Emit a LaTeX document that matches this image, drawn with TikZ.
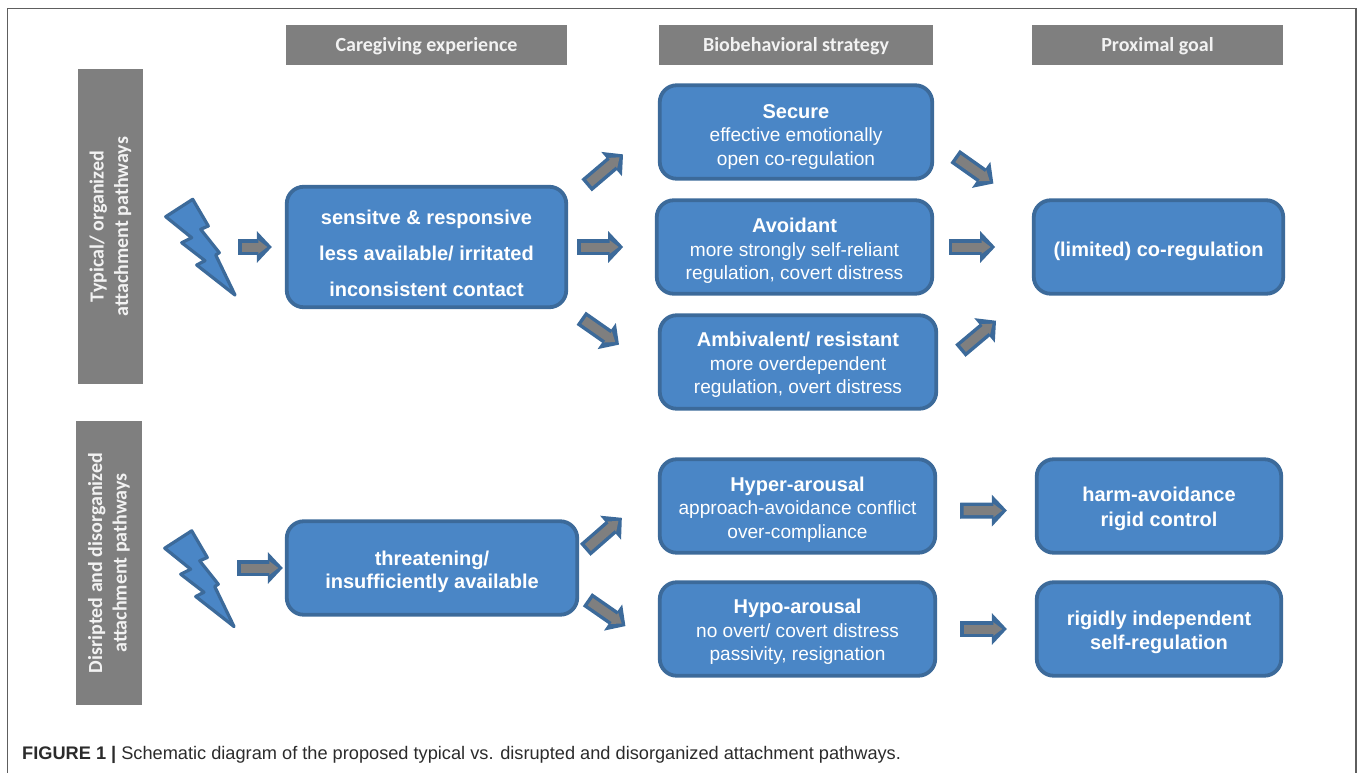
\documentclass[tikz,border=0pt]{standalone}
\usepackage{fontspec}
\setmainfont{Liberation Sans}
\newfontfamily\barfont{Carlito}
\usetikzlibrary{positioning, arrows.meta}
\definecolor{boxblue}{HTML}{4A86C6}
\definecolor{boxedge}{HTML}{3C6A9A}
\definecolor{bargray}{HTML}{7F7F7F}
\definecolor{framegray}{HTML}{5E5E5E}
\definecolor{captiontext}{HTML}{2B2B2B}
\newcommand{\boxtitle}[1]{{\fontsize{20}{23.6}\selectfont\bfseries #1}}
% first line of a box, the strut sets how far the text sits down
\newcommand{\boxhead}[2][23.5pt]{\rule{0pt}{#1}\boxtitle{#2}}
\tikzstyle{block} = [rectangle, draw=boxedge, fill=boxblue, line width=3.8pt,
    rounded corners=17pt, text=white, align=center,
    font=\fontsize{19.1}{23.6}\selectfont]
\tikzstyle{bar} = [rectangle, fill=bargray, text=white!95!black, align=center, inner sep=0pt,
    font=\barfont\bfseries\fontsize{20}{24.5}\selectfont]
\tikzstyle{boltline} = [draw=boxedge, fill=boxblue, line width=3.2pt, line join=round]
\tikzstyle{frameline} = [draw=framegray, line width=1.4pt]
\tikzset{
% block arrow: the two values trim it at its start and at its end
blockarrow/.style 2 args={draw=boxedge, line width=16pt, shorten <=#1pt, shorten >=#2pt,
    -{Triangle[length=15pt,width=31pt]},
    postaction={draw=bargray, line width=9pt, shorten <=#1pt+3.5pt, shorten >=#2pt+4.5pt,
    -{Triangle[length=9pt,width=13pt]}}},
bolt/.pic={
    \draw [boltline] (-7.3,-47.7) -- (-34.3,-30.3) -- (-8.3,-9.3) -- (-18.3,-4.3) -- (5,13.7)
        -- (-3.3,18) -- (35,48) -- (15.7,8) -- (19.3,5.7) -- (0.7,-17.7) -- (8.3,-21) -- cycle;
}
}
\begin{document}
\begin{tikzpicture}[x=1pt, y=-1pt]
\useasboundingbox (0,0) rectangle (1358,773);
\draw [frameline] (7.5,773) -- (7.5,8.5) -- (1356,8.5) -- (1356,773);

\node [bar, minimum width=281pt, minimum height=40pt, text depth=2pt] (headcare) at (426.5,45) {Caregiving experience};
\node [bar, minimum width=274pt, minimum height=40pt, text depth=2pt, right of=headcare, node distance=369.5pt] (headstrategy) {Biobehavioral strategy};
\node [bar, minimum width=251pt, minimum height=40pt, text depth=2pt, right of=headstrategy, node distance=361.5pt] (headgoal) {Proximal goal};
\node [bar, rotate=90, minimum width=315pt, minimum height=65pt] (sidetypical) at (110.5,226.5) {Typical/ organized\\attachment pathways};
\node [bar, rotate=90, minimum width=284pt, minimum height=66pt] (sidedisrupted) at (109,563) {Disripted and disorganized\\attachment pathways};

\pic (boltA) at (200,247) {bolt};
\pic (boltB) at (199,578.5) {bolt};
\coordinate (startA) at (238,247);
\coordinate (startB) at (237,568);

\node [block, minimum width=279.5pt, minimum height=120.5pt] (careA) at (426.5,247) {\boxhead[26.5pt]{sensitve \& responsive}\\[12.4pt]\boxtitle{less available/ irritated}\\[12.4pt]\boxtitle{inconsistent contact}};
\node [block, minimum width=275.5pt, minimum height=93.5pt, right of=careA, node distance=368pt] (avoidant) {\boxhead[22.5pt]{Avoidant}\\more strongly self-reliant\\regulation, covert distress};
\node [block, minimum width=272.5pt, minimum height=93.5pt, above of=avoidant, node distance=115pt, xshift=1.5pt] (secure) {\boxhead{Secure}\\effective emotionally\\open co-regulation};
\node [block, minimum width=276.5pt, minimum height=93.5pt, below of=avoidant, node distance=115pt, xshift=3.5pt] (ambivalent) {\boxhead[20.5pt]{Ambivalent/ resistant}\\more overdependent\\regulation, overt distress};
\node [block, minimum width=249.5pt, minimum height=93.5pt, right of=avoidant, node distance=364pt] (limited) {\boxhead{(limited) co-regulation}};

\node [block, minimum width=290.5pt, minimum height=93.5pt] (careB) at (432,568) {\boxhead[22.5pt]{threatening/}\\\boxtitle{insufficiently available}};
\node [block, minimum width=275.5pt, minimum height=93.5pt] (hyper) at (797.5,506) {\boxhead[21.5pt]{Hyper-arousal}\\approach-avoidance conflict\\over-compliance};
\node [block, minimum width=275.5pt, minimum height=93.5pt, below of=hyper, node distance=123pt] (hypo) {\boxhead[20.5pt]{Hypo-arousal}\\no overt/ covert distress\\passivity, resignation};
\node [block, minimum width=244.5pt, minimum height=93.5pt, right of=hyper, node distance=361.5pt] (harm) {\boxhead[20.5pt]{harm-avoidance}\\[1pt]\boxtitle{rigid control}};
\node [block, minimum width=244.5pt, minimum height=93.5pt, right of=hypo, node distance=361.5pt] (rigid) {\boxhead[21.5pt]{rigidly independent}\\\boxtitle{self-regulation}};

\node [anchor=base west, inner sep=0pt, text=captiontext, font=\fontsize{18.2}{20}\selectfont] (caption) at (22,759.5) {\textbf{FIGURE 1 |} Schematic diagram of the proposed typical vs. disrupted and disorganized attachment pathways.};

  \draw [blockarrow={0}{13}] (startA) -- (careA);
  \draw [blockarrow={24.2}{45.7}] (careA.18.1) -- (secure.177.6);
  \draw [blockarrow={9.3}{31.7}] (careA) -- (avoidant);
  \draw [blockarrow={15.9}{47.4}] (careA.south east) -- (ambivalent.184.4);
  \draw [blockarrow={25.6}{47.1}] (secure.-4.4) -- (limited.164.2);
  \draw [blockarrow={14.7}{36.7}] (avoidant) -- (limited);
  \draw [blockarrow={29}{46.8}] (ambivalent.-3.2) -- (limited.199.5);

  \draw [blockarrow={0}{2}] (startB) -- (careB);
  \draw [blockarrow={8.1}{47.8}] (careB.5.6) -- (hyper.172.9);
  \draw [blockarrow={10.1}{39.5}] (careB.-10) -- (hypo.188.3);
  \draw [blockarrow={23}{28}] (hyper.-2) -- (harm.182.3);
  \draw [blockarrow={23}{28}] (hypo) -- (rigid);
\end{tikzpicture}
\end{document}
